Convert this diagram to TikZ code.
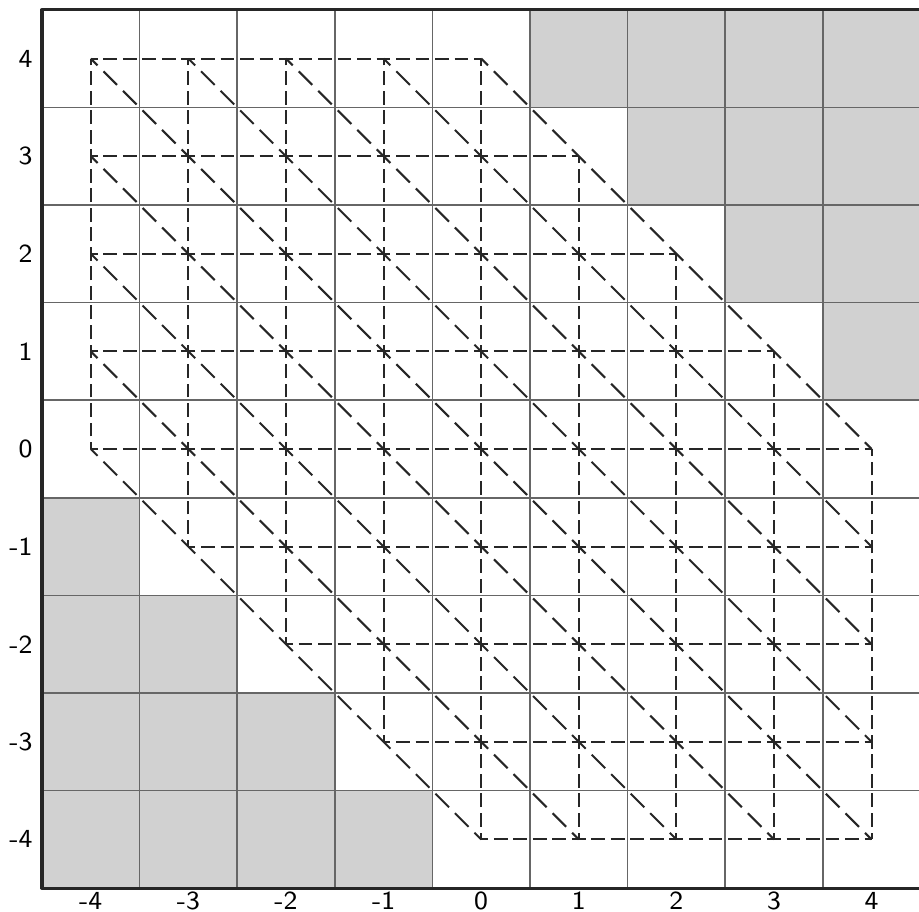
\documentclass[tikz,border=0pt]{standalone}
\begin{document}
\begin{tikzpicture}[line join=round,
	gridline/.style={line width=0.5pt, color=black!60},
	frameline/.style={line width=0.9pt, color=black!85},
	lattice/.style={line width=0.6pt, color=black!85, dash pattern=on 4pt off 1.69pt, dash phase=2pt},
	diaglattice/.style={lattice, dash pattern=on 5.6pt off 2.45pt, dash phase=2.8pt},
	shadecell/.style={fill=black!18},
	axislabel/.style={inner sep=0pt, font=\sffamily\fontsize{7.6}{9}\selectfont}]
	\useasboundingbox (-4.93,-4.74) rectangle (4.486,4.60);
	
	% 1. Shaded corner cells (stairs)
	\fill[shadecell] (0.5,4.5) -- (4.5,4.5) -- (4.5,0.5) -- (3.5,0.5) -- (3.5,1.5) -- (2.5,1.5)
	-- (2.5,2.5) -- (1.5,2.5) -- (1.5,3.5) -- (0.5,3.5) -- cycle;
	\fill[shadecell] (-4.5,-0.5) -- (-3.5,-0.5) -- (-3.5,-1.5) -- (-2.5,-1.5) -- (-2.5,-2.5) -- (-1.5,-2.5)
	-- (-1.5,-3.5) -- (-0.5,-3.5) -- (-0.5,-4.5) -- (-4.5,-4.5) -- cycle;
	
	% 2. Square grid
	\foreach \g in {-3.5,-2.5,...,3.5} {
		\draw[gridline] (\g,-4.5) -- (\g,4.5);
		\draw[gridline] (-4.5,\g) -- (4.5,\g);
	}
	
	% 3. Frame (top, left and bottom only)
	\draw[frameline] (4.5,4.5) -- (-4.5,4.5) -- (-4.5,-4.5) -- (4.5,-4.5);
	
	% 4. Dashed hexagonal lattice
	\foreach \k [evaluate=\k as \ka using {max(-4,-4-\k)},
	             evaluate=\k as \kb using {min(4,4-\k)},
	             evaluate=\k as \da using {max(-4,\k-4)},
	             evaluate=\k as \db using {min(4,\k+4)}] in {-4,...,4} {
		\draw[lattice] (\ka,\k) -- (\kb,\k);
		\draw[lattice] (\k,\ka) -- (\k,\kb);
		\draw[diaglattice] ({\da},{\k-\da}) -- ({\db},{\k-\db});
	}
	
	% 5. Axis numbers
	\foreach \k in {-4,...,4} {
		\node[axislabel, anchor=east] (ylab\k) at (-4.59,\k) {\k};
		\node[axislabel] (xlab\k) at (\k,-4.63) {\k};
	}
\end{tikzpicture}
\end{document}
